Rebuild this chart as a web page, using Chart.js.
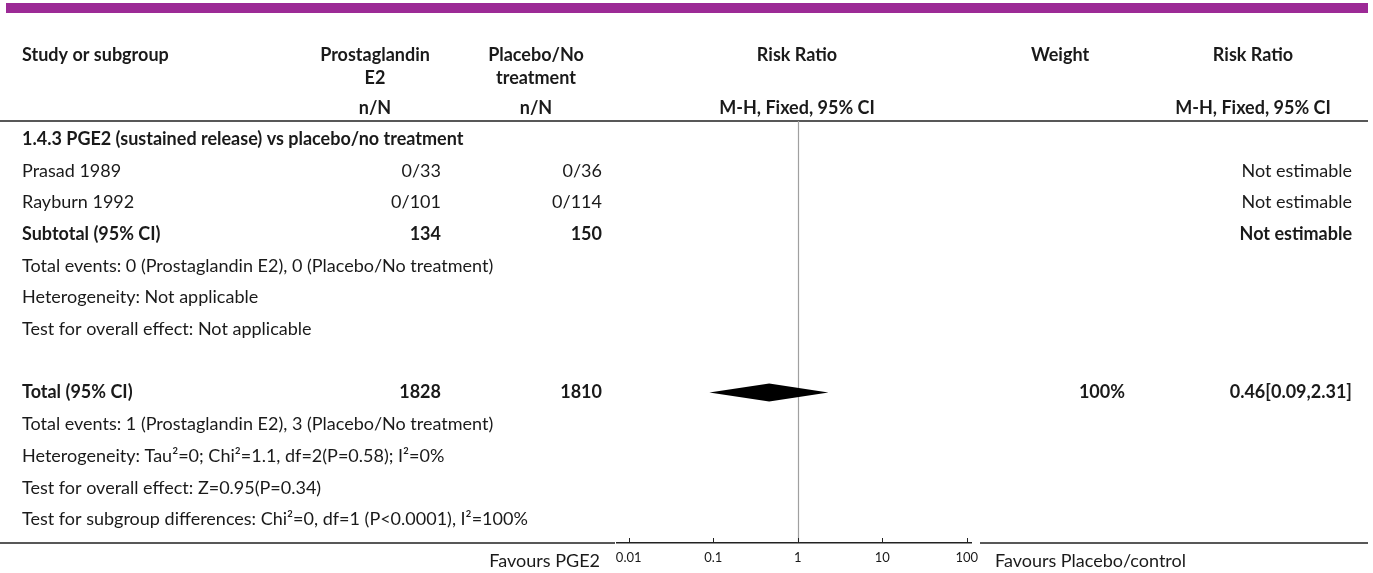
<!DOCTYPE html>
<html>
<head>
<meta charset="utf-8">
<script src="https://cdn.jsdelivr.net/npm/chart.js@4.4.1/dist/chart.umd.min.js"></script>
<style>
html,body{margin:0;padding:0;background:#fff;}
#wrap{width:1373px;height:573px;position:relative;}
</style>
</head>
<body>
<div id="wrap"><canvas id="c" width="1373" height="573"></canvas></div>
<script>
// ---- data ----
const rowLabels = [
  '1.4.3 PGE2 (sustained release) vs placebo/no treatment',
  'Prasad 1989',
  'Rayburn 1992',
  'Subtotal (95% CI)',
  'Total events: 0 (Prostaglandin E2), 0 (Placebo/No treatment)',
  'Heterogeneity: Not applicable',
  'Test for overall effect: Not applicable',
  '',
  'Total (95% CI)',
  'Total events: 1 (Prostaglandin E2), 3 (Placebo/No treatment)',
  'Heterogeneity: Tau\u00B2=0; Chi\u00B2=1.1, df=2(P=0.58); I\u00B2=0%',
  'Test for overall effect: Z=0.95(P=0.34)',
  'Test for subgroup differences: Chi\u00B2=0, df=1 (P<0.0001), I\u00B2=100%'
];
const boldRows = [0, 3, 8];
const treatmentNN = ['', '0/33', '0/101', '134', '', '', '', '', '1828', '', '', '', ''];
const controlNN   = ['', '0/36', '0/114', '150', '', '', '', '', '1810', '', '', '', ''];
const weights     = ['', '', '', '', '', '', '', '', '100%', '', '', '', ''];
const ciTexts     = ['', 'Not estimable', 'Not estimable', 'Not estimable', '', '', '', '', '0.46[0.09,2.31]', '', '', '', ''];
const diamondRow = 8;
const diamondEst = 0.46, diamondLo = 0.09, diamondHi = 2.31;
const tickValues = [0.01, 0.1, 1, 10, 100];
const tickLabels = ['0.01', '0.1', '1', '10', '100'];

const FONT = 'Lato, "Noto Sans", sans-serif';
const FS = 18;

const tablePlugin = {
  id: 'table',
  beforeDraw(chart) {
    const ctx = chart.ctx;
    ctx.save();
    ctx.fillStyle = '#fff';
    ctx.fillRect(0, 0, chart.width, chart.height);
    ctx.fillStyle = '#9c2a96';
    ctx.fillRect(6, 3, 1362, 10);
    ctx.restore();
  },
  afterDraw(chart) {
    const ctx = chart.ctx;
    const xs = chart.scales.x, ys = chart.scales.y;
    const area = chart.chartArea;
    ctx.save();
    // header / bottom lines
    ctx.strokeStyle = '#222';
    ctx.lineWidth = 1.5;
    ctx.beginPath();
    ctx.moveTo(0, area.top); ctx.lineTo(1368, area.top);
    ctx.moveTo(0, area.bottom); ctx.lineTo(area.left - 2, area.bottom);
    ctx.moveTo(area.right + 9, area.bottom); ctx.lineTo(1368, area.bottom);
    ctx.stroke();
    // vertical line of no effect
    const x1 = Math.round(xs.getPixelForValue(1)) + 0.5;
    ctx.strokeStyle = '#a0a0a0';
    ctx.lineWidth = 1.2;
    ctx.beginPath();
    ctx.moveTo(x1, area.top); ctx.lineTo(x1, area.bottom);
    ctx.stroke();
    // tick marks upward
    ctx.strokeStyle = '#222';
    ctx.lineWidth = 1;
    ctx.beginPath();
    tickValues.forEach(v => {
      const px = Math.round(xs.getPixelForValue(v)) + 0.5;
      ctx.moveTo(px, area.bottom); ctx.lineTo(px, area.bottom - 5);
    });
    ctx.stroke();
    // diamond
    const yc = ys.getPixelForValue(diamondRow);
    const dh = 9;
    ctx.fillStyle = '#000';
    ctx.beginPath();
    ctx.moveTo(xs.getPixelForValue(diamondLo), yc);
    ctx.lineTo(xs.getPixelForValue(diamondEst), yc - dh);
    ctx.lineTo(xs.getPixelForValue(diamondHi), yc);
    ctx.lineTo(xs.getPixelForValue(diamondEst), yc + dh);
    ctx.closePath();
    ctx.fill();

    // header texts
    ctx.fillStyle = '#1a1a1a';
    ctx.textBaseline = 'middle';
    const bold = 'bold ' + FS + 'px ' + FONT;
    const norm = FS + 'px ' + FONT;
    ctx.font = bold;
    ctx.textAlign = 'left';
    ctx.fillText('Study or subgroup', 22, 55);
    ctx.textAlign = 'center';
    ctx.fillText('Prostaglandin', 375, 55);
    ctx.fillText('E2', 375, 78);
    ctx.fillText('n/N', 375, 108);
    ctx.fillText('Placebo/No', 536, 55);
    ctx.fillText('treatment', 536, 78);
    ctx.fillText('n/N', 536, 108);
    ctx.fillText('Risk Ratio', 797, 55);
    ctx.fillText('M-H, Fixed, 95% CI', 797, 108);
    ctx.fillText('Weight', 1060, 55);
    ctx.fillText('Risk Ratio', 1253, 55);
    ctx.fillText('M-H, Fixed, 95% CI', 1253, 108);

    // rows
    rowLabels.forEach((lab, i) => {
      const y = ys.getPixelForValue(i);
      const isBold = boldRows.includes(i);
      ctx.font = isBold ? bold : norm;
      ctx.textAlign = 'left';
      ctx.fillText(lab, 22, y);
      ctx.textAlign = 'right';
      if (treatmentNN[i]) ctx.fillText(treatmentNN[i], 441, y);
      if (controlNN[i]) ctx.fillText(controlNN[i], 602, y);
      if (weights[i]) ctx.fillText(weights[i], 1125, y);
      if (ciTexts[i]) ctx.fillText(ciTexts[i], 1352, y);
    });

    // favours labels
    ctx.font = norm;
    const ly = area.bottom + 18;
    ctx.textAlign = 'right';
    ctx.fillText('Favours PGE2', 600, ly);
    ctx.textAlign = 'left';
    ctx.fillText('Favours Placebo/control', 995, ly);
    ctx.restore();
  }
};

// log scale calibration: 1 at 797.7px, 84.5px per decade; area 617..971
const AREA_L = 617, AREA_R = 971, AREA_T = 121, AREA_B = 543;
const X1PX = 797.7, DEC = 84.5;
const xMin = Math.pow(10, (AREA_L - X1PX) / DEC);
const xMax = Math.pow(10, (AREA_R - X1PX) / DEC);
const ROW0 = 139, ROWH = 31.7;
const yMin = (AREA_T - ROW0) / ROWH;
const yMax = (AREA_B - ROW0) / ROWH;

new Chart(document.getElementById('c'), {
  type: 'scatter',
  data: {
    datasets: [{
      data: [{x: diamondEst, y: diamondRow}],
      pointRadius: 0,
      showLine: false
    }]
  },
  options: {
    responsive: false,
    animation: false,
    events: [],
    layout: { padding: { left: AREA_L, right: 1373 - AREA_R, top: AREA_T, bottom: 0 } },
    plugins: { legend: { display: false }, tooltip: { enabled: false } },
    scales: {
      x: {
        type: 'logarithmic',
        min: xMin, max: xMax,
        afterBuildTicks: (axis) => { axis.ticks = tickValues.map(v => ({ value: v })); },
        grid: { display: false, drawTicks: false },
        border: { display: true, color: '#222', width: 1.5 },
        ticks: {
          autoSkip: false,
          maxRotation: 0,
          padding: 7,
          color: '#1a1a1a',
          font: { family: FONT, size: 13 },
          callback: (v) => { const k = tickValues.indexOf(v); return k >= 0 ? tickLabels[k] : ''; }
        },
        afterFit: (axis) => { axis.height = 573 - AREA_B; }
      },
      y: {
        type: 'linear',
        reverse: true,
        min: yMin, max: yMax,
        display: false
      }
    }
  },
  plugins: [tablePlugin]
});
</script>
</body>
</html>
